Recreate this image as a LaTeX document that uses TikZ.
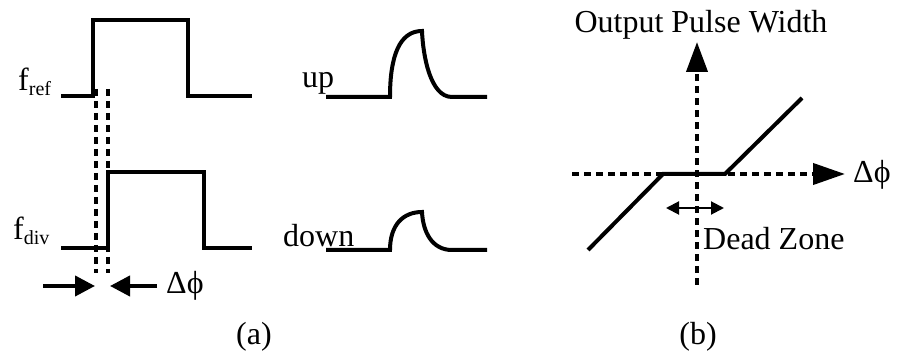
\documentclass[tikz,border=0pt]{standalone}
\usepackage{fontspec}
\setmainfont{Liberation Serif}
\usetikzlibrary{arrows.meta}
\tikzstyle{wave} = [line width=4pt, line join=miter]
\tikzstyle{guide} = [line width=4pt, dash pattern=on 7pt off 5pt]
\tikzstyle{bigarrow} = [line width=4pt, -{Triangle[length=20pt,width=20pt]}]
\tikzstyle{txt} = [inner sep=0pt, anchor=base]

\begin{document}
\begin{tikzpicture}[x=1pt, y=-1pt, font=\fontsize{32}{38}\selectfont]
\useasboundingbox (0,0) rectangle (898,352);
% (a) clocks into the detector
\draw[wave] (61,96) -- (93,96) -- (93,20) -- (188,20) -- (188,96) -- (252,96);
\draw[wave] (61,248) -- (108,248) -- (108,172) -- (204,172) -- (204,248) -- (252,248);
\draw[guide] (96,89) -- (96,273);
\draw[guide] (108,89) -- (108,273);
\node[txt, anchor=base west] (fref) at (18,91) {f\raisebox{-5pt}{\fontsize{20}{20}\selectfont ref}};
\node[txt, anchor=base west] (fdiv) at (13,240) {f\raisebox{-5pt}{\fontsize{20}{20}\selectfont div}};
\node[txt, anchor=base west] (dphia) at (166,294) {Δϕ};
\coordinate (left) at (43,286);
\coordinate (edgea) at (95,286);
\coordinate (right) at (157,286);
\coordinate (edgeb) at (110,286);
\draw[bigarrow] (left) -- (edgea);
\draw[bigarrow] (right) -- (edgeb);
% detector outputs
\node[txt, anchor=base west] (up) at (302,88) {up};
\node[txt, anchor=base west] (down) at (283,247) {down};
\draw[wave] (326,97) -- (390,97) .. controls (390,55) and (400,31) .. (422,31)
  .. controls (423,55) and (430,97) .. (452,97) -- (487,97);
\draw[wave] (326,250) -- (390,250) .. controls (390,225) and (403,212) .. (422,212)
  .. controls (423,232) and (432,250) .. (452,250) -- (487,250);
\node[txt] (capa) at (254,345) {(a)};
% (b) transfer curve
\coordinate (ybot) at (697,285);
\coordinate (ytop) at (697,42);
\coordinate (xlft) at (572,174);
\coordinate (xrgt) at (845,174);
\draw[guide, -{Triangle[length=30pt,width=21pt]}] (ybot) -- (ytop);
\draw[guide, -{Triangle[length=32pt,width=21pt]}] (xlft) -- (xrgt);
\draw[wave] (588,250) -- (663,174) -- (725,174) -- (802,98);
\coordinate (dzl) at (666,208);
\coordinate (dzr) at (724,208);
\draw[line width=2pt, {Triangle[length=13pt,width=13pt]}-{Triangle[length=13pt,width=13pt]}] (dzl) -- (dzr);
\node[txt] (ylabel) at (701,33) {Output Pulse Width};
\node[txt, anchor=base west] (xlabel) at (853,183) {Δϕ};
\node[txt, anchor=base west] (dead) at (703,250) {Dead Zone};
\node[txt] (capb) at (698,345) {(b)};
\end{tikzpicture}
\end{document}
